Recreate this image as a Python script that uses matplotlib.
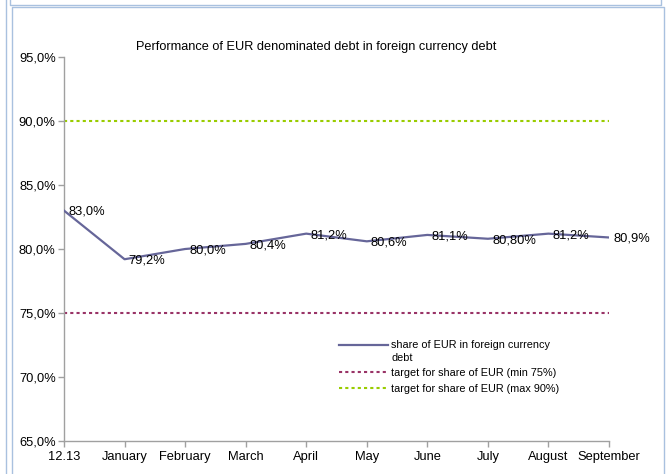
import matplotlib
matplotlib.use("Agg")
import matplotlib.pyplot as plt
from matplotlib.lines import Line2D
from matplotlib.legend_handler import HandlerLine2D

categories = ["12.13", "January", "February", "March", "April", "May", "June", "July", "August", "September"]
share_eur = [83.0, 79.2, 80.0, 80.4, 81.2, 80.6, 81.1, 80.8, 81.2, 80.9]
point_labels = ["83,0%", "79,2%", "80,0%", "80,4%", "81,2%", "80,6%", "81,1%", "80,80%", "81,2%", "80,9%"]
target_min = 75.0
target_max = 90.0
y_ticks = [65, 70, 75, 80, 85, 90, 95]
y_tick_labels = ["65,0%", "70,0%", "75,0%", "80,0%", "85,0%", "90,0%", "95,0%"]
title = "Performance of EUR denominated debt in foreign currency debt"

plt.rcParams['font.family'] = ['Liberation Sans', 'DejaVu Sans']

W, H = 667, 474
fig = plt.figure(figsize=(W / 100, H / 100), dpi=100)
fig.patch.set_facecolor("white")

def fx(px):
    return px / W

def fy(py):
    return 1 - py / H


class RaisedLineHandler(HandlerLine2D):
    def __init__(self, dy, **kw):
        super().__init__(**kw)
        self.dy = dy

    def create_artists(self, legend, orig_handle, xdescent, ydescent, width, height, fontsize, trans):
        arts = super().create_artists(legend, orig_handle, xdescent, ydescent, width, height, fontsize, trans)
        for a in arts:
            a.set_ydata([v + self.dy for v in a.get_ydata()])
        return arts


ax = fig.add_axes([fx(64), fy(441), fx(609) - fx(64), fy(57) - fy(441)])
x = list(range(len(categories)))

main_line, = ax.plot(x, share_eur, color="#666699", lw=1.6, label="share of EUR in foreign currency\ndebt", zorder=3)
ax.plot([x[0], x[-1]], [target_min, target_min], color="#993366", lw=1.5,
        linestyle=(0, (1.5, 1.5)), label="target for share of EUR (min 75%)")
ax.plot([x[0], x[-1]], [target_max, target_max], color="#99CC00", lw=1.5,
        linestyle=(0, (1.5, 1.5)), label="target for share of EUR (max 90%)")

for xi, yi, lab in zip(x, share_eur, point_labels):
    ax.annotate(lab, (xi, yi), xytext=(3, -1), textcoords="offset points",
                ha="left", va="center", fontsize=9.3, color="#000000", zorder=4)

ax.set_xlim(0, 9)
ax.set_ylim(65, 95)
ax.set_yticks(y_ticks)
ax.set_yticklabels(y_tick_labels)
ax.set_xticks(x)
ax.set_xticklabels(categories)
ax.tick_params(axis="both", labelsize=9.3, color="#A0A0A0", length=4, width=1, direction="out")
ax.tick_params(axis="x", pad=3)
ax.tick_params(axis="y", pad=2)
for s in ["top", "right"]:
    ax.spines[s].set_visible(False)
for s in ["left", "bottom"]:
    ax.spines[s].set_color("#A0A0A0")
    ax.spines[s].set_linewidth(1)

fig.text(fx(316), fy(47), title, ha="center", va="center", fontsize=9.2)

leg = ax.legend(loc="upper left", bbox_to_anchor=(fx(339), fy(340)), bbox_transform=fig.transFigure,
                frameon=False, fontsize=7.8, handlelength=4.5, handletextpad=0.3,
                labelspacing=0.5, borderpad=0, borderaxespad=0,
                handler_map={main_line: RaisedLineHandler(dy=5.0)})
leg.get_texts()[0].set_linespacing(1.35)

# surrounding frame lines
fc = "#A9C1DF"
fig.add_artist(Line2D([fx(6), fx(6)], [0, 1], color=fc, lw=1, transform=fig.transFigure))
fig.add_artist(Line2D([fx(10), fx(10), fx(661), fx(661)], [1, fy(5), fy(5), 1], color=fc, lw=1, transform=fig.transFigure))
fig.add_artist(Line2D([fx(11.5), fx(11.5), fx(664), fx(664)], [0, fy(7), fy(7), 0], color=fc, lw=1, transform=fig.transFigure))

fig.savefig("out.png", dpi=100)
